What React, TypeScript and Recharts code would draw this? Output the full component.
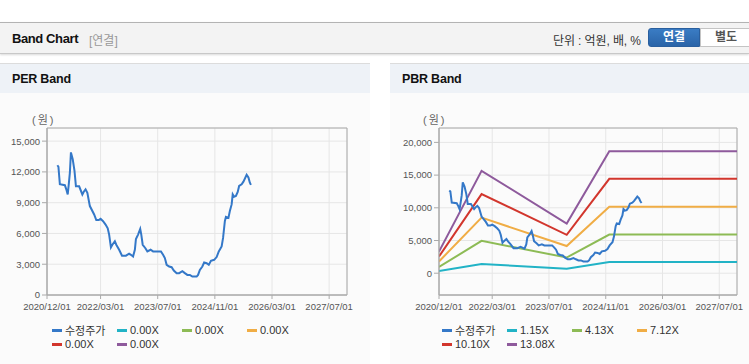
import React from "react";
import { LineChart, Line, XAxis, YAxis, CartesianGrid, ReferenceArea } from "recharts";

// x axis: months since 2020/12/01
const xTicks = [0, 15, 31, 47, 63, 79];
const xTickLabels = ["2020/12/01", "2022/03/01", "2023/07/01", "2024/11/01", "2026/03/01", "2027/07/01"];

const priceMonths = [
  2.9, 3.2, 3.6, 5.0, 5.4, 5.8, 6.1, 6.4, 6.7, 7.2, 7.7, 8.1, 9.0, 9.9, 10.3, 10.8, 11.3, 12.0, 13.2, 13.8,
  14.5, 15.0, 15.7, 16.4, 17.0, 17.4, 17.9, 18.3, 19.0, 19.4, 20.2, 21.0, 22.1, 23.0, 23.5, 24.1, 24.6, 24.9,
  25.5, 26.1, 26.4, 26.8, 27.5, 28.1, 29.0, 29.7, 30.7, 31.9, 32.5, 33.0, 33.5, 34.2, 34.9, 35.5, 36.3, 37.0,
  37.9, 38.6, 39.3, 40.0, 40.7, 41.9, 42.3, 42.8, 43.5, 44.0, 44.7, 45.3, 45.9, 46.8, 47.5, 48.1, 48.9, 49.3,
  49.8, 50.1, 50.8, 51.2, 51.7, 52.0, 52.4, 52.9, 53.4, 53.8, 54.5, 55.0, 55.9, 56.4, 56.8, 57.1,
];
const prices = [
  12650, 12500, 10800, 10700, 10300, 9800, 10800, 11900, 13900, 13250, 12100, 10600, 10600, 9800, 10070, 10300,
  9970, 8670, 7850, 7300, 7300, 7420, 7190, 6870, 6500, 5890, 4640, 4900, 5230, 4900, 4410, 3830, 3830, 4020,
  3920, 3760, 4410, 5460, 5890, 6440, 5890, 4900, 4580, 4250, 4410, 4250, 4250, 4250, 3920, 3600, 2940, 2780,
  2710, 2390, 2130, 2130, 2320, 2130, 1960, 1960, 1800, 1800, 1960, 2450, 2780, 3170, 3100, 2940, 3340, 3430,
  3700, 4250, 4740, 5560, 7190, 7620, 7520, 8180, 8830, 9810, 9580, 9650, 10040, 10630, 10790, 11050, 11710,
  11450, 10950, 10730,
];

// PBR band lines
const bandMonths = [0, 12, 36, 48, 84];
const band115 = [350, 1420, 700, 1700, 1700];
const band413 = [950, 4950, 2400, 5900, 5900];
const band712 = [1800, 8500, 4150, 10170, 10170];
const band1010 = [2550, 12100, 5870, 14430, 14430];
const band1308 = [3300, 15650, 7600, 18650, 18650];

const perYTicks = [0, 3000, 6000, 9000, 12000, 15000];
const pbrYTicks = [0, 5000, 10000, 15000, 20000];

const perLegend = [
  { name: "수정주가", color: "#3478c8" },
  { name: "0.00X", color: "#22b3c6" },
  { name: "0.00X", color: "#8dbb55" },
  { name: "0.00X", color: "#f0ad45" },
  { name: "0.00X", color: "#d2362d" },
  { name: "0.00X", color: "#8e5a9c" },
];
const pbrLegend = [
  { name: "수정주가", color: "#3478c8" },
  { name: "1.15X", color: "#22b3c6" },
  { name: "4.13X", color: "#8dbb55" },
  { name: "7.12X", color: "#f0ad45" },
  { name: "10.10X", color: "#d2362d" },
  { name: "13.08X", color: "#8e5a9c" },
];

const FONT = '"Liberation Sans", Arial, "Noto Sans CJK KR", sans-serif';

const perData = priceMonths.map((m, i) => ({ m, price: prices[i] }));

const pbrMap = new Map<number, any>();
priceMonths.forEach((m, i) => pbrMap.set(m, { m, price: prices[i] }));
bandMonths.forEach((m, i) => {
  const row = pbrMap.get(m) || { m };
  row.b1 = band115[i];
  row.b2 = band413[i];
  row.b3 = band712[i];
  row.b4 = band1010[i];
  row.b5 = band1308[i];
  pbrMap.set(m, row);
});
const pbrData = Array.from(pbrMap.values()).sort((a, b) => a.m - b.m);

const fmtX = (v: number) => {
  const i = xTicks.indexOf(v);
  return i >= 0 ? xTickLabels[i] : "";
};
const fmtY = (v: number) => v.toLocaleString("en-US");

const tickStyle = { fontSize: 9.5, fill: "#555", fontFamily: FONT };

function Legend2({ items, left }: { items: { name: string; color: string }[]; left: number }) {
  const cols = [52, 117, 182, 247];
  return (
    <>
      {items.map((it, i) => {
        const row = i < 4 ? 0 : 1;
        const col = i < 4 ? i : i - 4;
        return (
          <div
            key={i}
            style={{
              position: "absolute",
              left: left + cols[col],
              top: row === 0 ? 323 : 337,
              height: 14,
              display: "flex",
              alignItems: "center",
              fontSize: 11,
              color: "#333",
              fontFamily: FONT,
              whiteSpace: "nowrap",
            }}
          >
            <span style={{ display: "inline-block", width: 10, height: 3, background: it.color, marginRight: 3 }} />
            {it.name}
          </div>
        );
      })}
    </>
  );
}

function Panel({ left, width, title }: { left: number; width: number; title: string }) {
  return (
    <div
      style={{
        position: "absolute",
        left,
        top: 63,
        width,
        height: 300,
        background: "#fbfbfb",
        borderTop: "1px solid #dcdcdc",
        borderBottom: "1px solid #cfcfcf",
      }}
    >
      <div
        style={{
          height: 29,
          background: "#eef2f7",
          fontFamily: FONT,
          fontWeight: "bold",
          fontSize: 12.5,
          color: "#111",
          lineHeight: "31px",
          paddingLeft: 12,
          letterSpacing: -0.2,
        }}
      >
        {title}
      </div>
    </div>
  );
}

export default function App() {
  return (
    <div style={{ position: "absolute", left: 0, top: 0, width: 749, height: 364, background: "#fff", overflow: "hidden", fontFamily: FONT }}>
      {/* header bar */}
      <div
        style={{
          position: "absolute",
          left: 0,
          top: 22,
          width: 749,
          height: 30,
          background: "#f3f3f3",
          borderTop: "1px solid #b3b3b3",
          borderBottom: "1px solid #c8c8c8",
          boxShadow: "0 1px 2px rgba(0,0,0,0.15)",
        }}
      >
        <span style={{ position: "absolute", left: 12, top: 8, fontSize: 13, fontWeight: "bold", color: "#111", letterSpacing: -0.4 }}>Band Chart</span>
        <span style={{ position: "absolute", left: 89, top: 8, fontSize: 12, color: "#999" }}>[연결]</span>
        <span style={{ position: "absolute", left: 553, top: 8, fontSize: 12, color: "#333", letterSpacing: -0.1 }}>단위 : 억원, 배, %</span>
        <div
          style={{
            position: "absolute",
            left: 648,
            top: 5,
            width: 52,
            height: 19,
            background: "linear-gradient(#3a7cc4, #2a64a8)",
            borderRadius: "3px 0 0 3px",
            border: "1px solid #2a5f9e",
            boxSizing: "border-box",
            color: "#fff",
            fontWeight: "bold",
            fontSize: 12,
            textAlign: "center",
            lineHeight: "17px",
          }}
        >
          연결
        </div>
        <div
          style={{
            position: "absolute",
            left: 700,
            top: 5,
            width: 52,
            height: 19,
            background: "#fff",
            border: "1px solid #c4c4c4",
            boxSizing: "border-box",
            color: "#555",
            fontWeight: "bold",
            fontSize: 12,
            textAlign: "center",
            lineHeight: "17px",
          }}
        >
          별도
        </div>
      </div>

      <Panel left={0} width={370} title="PER Band" />
      <Panel left={390} width={359} title="PBR Band" />

      <div style={{ position: "absolute", left: 32, top: 111, fontSize: 11, color: "#666", letterSpacing: 2 }}>(원)</div>
      <div style={{ position: "absolute", left: 423, top: 111, fontSize: 11, color: "#666", letterSpacing: 2 }}>(원)</div>

      <div style={{ position: "absolute", left: 0, top: 118 }}>
        <LineChart width={370} height={202} data={perData} margin={{ top: 10, right: 23, left: 0, bottom: 0 }}>
          <CartesianGrid stroke="#e6e6e6" />
          <XAxis
            dataKey="m"
            type="number"
            domain={[0, 84]}
            ticks={xTicks}
            tickFormatter={fmtX}
            interval={0}
            height={25}
            tick={tickStyle}
            tickSize={4}
            tickMargin={4}
            stroke="#aaa"
            allowDataOverflow
          />
          <YAxis
            type="number"
            domain={[0, 16280]}
            ticks={perYTicks}
            tickFormatter={fmtY}
            width={47}
            tick={tickStyle}
            tickSize={5}
            tickMargin={2}
            stroke="#aaa"
            allowDataOverflow
          />
          <ReferenceArea x1={0} x2={84} y1={0} y2={16280} fill="none" stroke="#aaa" ifOverflow="visible" />
          <Line dataKey="price" stroke="#3478c8" strokeWidth={2} dot={false} isAnimationActive={false} connectNulls />
        </LineChart>
      </div>

      <div style={{ position: "absolute", left: 390, top: 118 }}>
        <LineChart width={359} height={202} data={pbrData} margin={{ top: 10, right: 12, left: 0, bottom: 0 }}>
          <CartesianGrid stroke="#e6e6e6" />
          <XAxis
            dataKey="m"
            type="number"
            domain={[0, 84]}
            ticks={xTicks}
            tickFormatter={fmtX}
            interval={0}
            height={25}
            tick={tickStyle}
            tickSize={4}
            tickMargin={4}
            stroke="#aaa"
            allowDataOverflow
          />
          <YAxis
            type="number"
            domain={[-3330, 22200]}
            ticks={pbrYTicks}
            tickFormatter={fmtY}
            width={49}
            tick={tickStyle}
            tickSize={5}
            tickMargin={2}
            stroke="#aaa"
            allowDataOverflow
          />
          <ReferenceArea x1={0} x2={84} y1={-3330} y2={22200} fill="none" stroke="#aaa" ifOverflow="visible" />
          <Line dataKey="b1" stroke="#22b3c6" strokeWidth={2} dot={false} isAnimationActive={false} connectNulls />
          <Line dataKey="b2" stroke="#8dbb55" strokeWidth={2} dot={false} isAnimationActive={false} connectNulls />
          <Line dataKey="b3" stroke="#f0ad45" strokeWidth={2} dot={false} isAnimationActive={false} connectNulls />
          <Line dataKey="b4" stroke="#d2362d" strokeWidth={2} dot={false} isAnimationActive={false} connectNulls />
          <Line dataKey="b5" stroke="#8e5a9c" strokeWidth={2} dot={false} isAnimationActive={false} connectNulls />
          <Line dataKey="price" stroke="#3478c8" strokeWidth={2} dot={false} isAnimationActive={false} connectNulls />
        </LineChart>
      </div>

      <Legend2 items={perLegend} left={0} />
      <Legend2 items={pbrLegend} left={390} />
    </div>
  );
}
